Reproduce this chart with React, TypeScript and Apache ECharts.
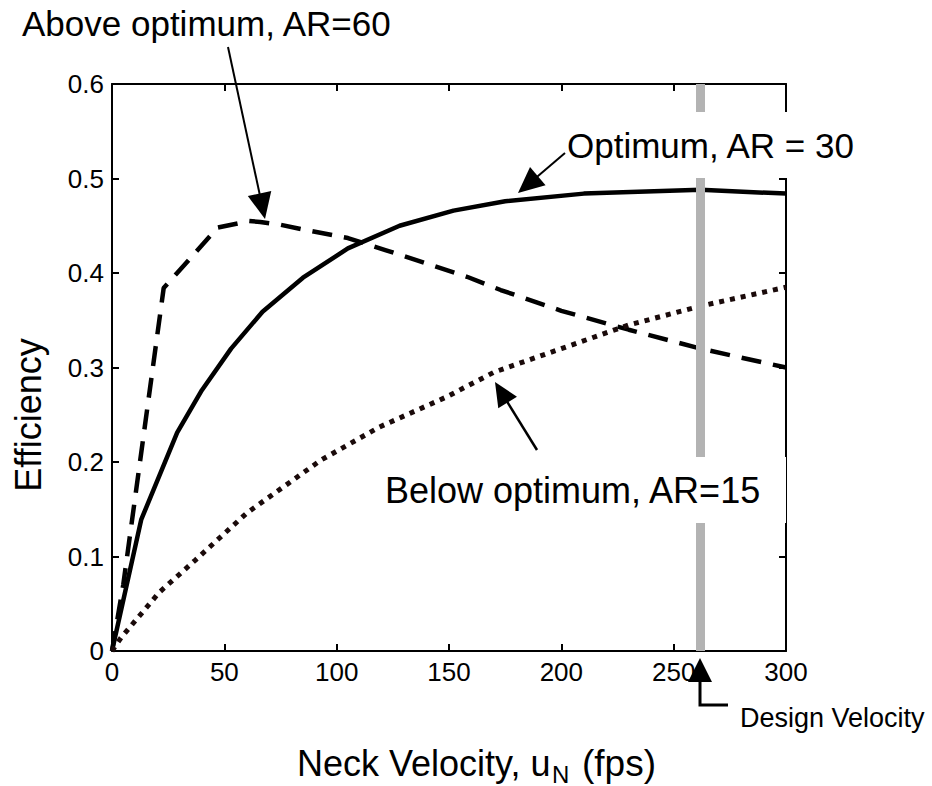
import React, { useEffect, useRef } from 'react';
import * as echarts from 'echarts';

// ---- Data ----
const xTickValues = [0, 50, 100, 150, 200, 250, 300];

const optimumX = [0, 13, 29, 40, 53, 67, 85, 105, 128, 152, 175, 210, 262, 300];
const optimumY = [0, 0.139, 0.231, 0.276, 0.32, 0.359, 0.395, 0.426, 0.45, 0.466, 0.476, 0.484, 0.488, 0.484];

const aboveX = [0, 5, 23, 29, 47, 61, 66, 75, 85, 105, 122, 140, 158, 173, 200, 230, 262, 300];
const aboveY = [0, 0.07, 0.384, 0.4, 0.448, 0.455, 0.454, 0.451, 0.446, 0.437, 0.424, 0.41, 0.396, 0.382, 0.36, 0.34, 0.32, 0.3];

const belowX = [0, 4, 21, 37, 60, 93, 119, 149, 170, 200, 230, 262, 300];
const belowY = [0, 0.014, 0.062, 0.096, 0.146, 0.202, 0.237, 0.269, 0.295, 0.32, 0.345, 0.365, 0.385];

const designVelocity = 262;

const FONT = '"Liberation Sans", Arial, Helvetica, sans-serif';

const pairs = (xs: number[], ys: number[]) => xs.map((x, i) => [x, ys[i]]);

function arrow(x1: number, y1: number, x2: number, y2: number, headLen: number, headW: number, lw: number) {
  const dx = x2 - x1;
  const dy = y2 - y1;
  const len = Math.hypot(dx, dy);
  const ux = dx / len;
  const uy = dy / len;
  const bx = x2 - ux * headLen;
  const by = y2 - uy * headLen;
  const px = (-uy * headW) / 2;
  const py = (ux * headW) / 2;
  return [
    {
      type: 'line',
      z: 100,
      shape: { x1, y1, x2: bx + ux * 2, y2: by + uy * 2 },
      style: { stroke: '#000', lineWidth: lw },
    },
    {
      type: 'polygon',
      z: 100,
      shape: { points: [[x2, y2], [bx + px, by + py], [bx - px, by - py]] },
      style: { fill: '#000' },
    },
  ];
}

function txt(text: string, x: number, y: number, size: number, align = 'left', rotation = 0) {
  return {
    type: 'text',
    z: 100,
    x,
    y,
    rotation,
    style: {
      text,
      font: `${size}px ${FONT}`,
      fill: '#000',
      textAlign: align,
      textVerticalAlign: 'middle',
      align,
      verticalAlign: 'middle',
    },
  };
}

export default function App() {
  const ref = useRef<HTMLDivElement>(null);

  useEffect(() => {
    if (!ref.current) return;
    const chart = echarts.init(ref.current, undefined, { renderer: 'svg' });

    const axisCommon = {
      type: 'value' as const,
      axisLine: { show: true, onZero: false, lineStyle: { color: '#000', width: 2 } },
      axisTick: { show: true, inside: true, length: 7, lineStyle: { color: '#000', width: 2 } },
      splitLine: { show: false },
    };

    const option: any = {
      animation: false,
      backgroundColor: '#fff',
      grid: {
        left: 112,
        right: 146,
        top: 84,
        bottom: 135,
        containLabel: false,
        outerBoundsMode: 'none',
      },
      xAxis: [
        {
          ...axisCommon,
          position: 'bottom',
          min: 0,
          max: 300,
          interval: 50,
          axisLabel: {
            show: true,
            color: '#000',
            fontSize: 26,
            fontFamily: FONT,
            margin: 8,
            customValues: xTickValues,
          },
        },
        {
          ...axisCommon,
          position: 'top',
          min: 0,
          max: 300,
          interval: 50,
          axisLabel: { show: false },
        },
      ],
      yAxis: [
        {
          ...axisCommon,
          position: 'left',
          min: 0,
          max: 0.6,
          interval: 0.1,
          axisLabel: {
            show: true,
            color: '#000',
            fontSize: 26,
            fontFamily: FONT,
            margin: 8,
            formatter: (v: number) => (v === 0 ? '0' : v.toFixed(1)),
          },
        },
        {
          ...axisCommon,
          position: 'right',
          min: 0,
          max: 0.6,
          interval: 0.1,
          axisLabel: { show: false },
        },
      ],
      series: [
        {
          name: 'Design Velocity',
          type: 'line',
          data: [],
          z: 1,
          markLine: {
            silent: true,
            symbol: ['none', 'none'],
            label: { show: false },
            lineStyle: { color: '#b3b3b3', width: 9, type: 'solid' },
            data: [{ xAxis: designVelocity }],
          },
        },
        {
          name: 'Optimum, AR = 30',
          type: 'line',
          z: 3,
          data: pairs(optimumX, optimumY),
          showSymbol: false,
          symbol: 'none',
          lineStyle: { color: '#000', width: 4.5, type: 'solid' },
        },
        {
          name: 'Above optimum, AR=60',
          type: 'line',
          z: 3,
          data: pairs(aboveX, aboveY),
          showSymbol: false,
          symbol: 'none',
          lineStyle: { color: '#000', width: 4.5, type: [20, 12] },
        },
        {
          name: 'Below optimum, AR=15',
          type: 'line',
          z: 3,
          data: pairs(belowX, belowY),
          showSymbol: false,
          symbol: 'none',
          lineStyle: { color: '#1a0a0a', width: 5, type: [5, 6], cap: 'butt' },
        },
      ],
      graphic: [
        // white label boxes
        { type: 'rect', z: 90, shape: { x: 560, y: 112, width: 312, height: 66 }, style: { fill: '#fff' } },
        { type: 'rect', z: 90, shape: { x: 380, y: 457, width: 406, height: 66 }, style: { fill: '#fff' } },
        txt('Above optimum, AR=60', 22, 23, 35),
        txt('Optimum, AR = 30', 567, 145, 35),
        txt('Below optimum, AR=15', 385, 490, 36),
        txt('Design Velocity', 740, 718, 27),
        txt('Efficiency', 28, 415, 36, 'center', Math.PI / 2),
        txt('Neck Velocity, u', 297, 763, 36),
        txt('N', 552, 774, 24),
        txt('(fps)', 582, 763, 37),
        ...arrow(228, 47, 265, 219, 26, 24, 2),
        ...arrow(565, 153, 518, 193, 26, 24, 2),
        ...arrow(537, 450, 495, 382, 24, 22, 2.5),
        // design velocity marker arrow
        {
          type: 'polygon',
          z: 100,
          shape: { points: [[700, 658], [688, 682], [712, 682]] },
          style: { fill: '#000' },
        },
        {
          type: 'polyline',
          z: 100,
          shape: { points: [[700, 680], [700, 705], [728, 705]] },
          style: { stroke: '#000', lineWidth: 3, fill: 'none' },
        },
      ],
    };

    chart.setOption(option);
    return () => chart.dispose();
  }, []);

  return (
    <div
      ref={ref}
      style={{ position: 'fixed', left: 0, top: 0, width: 932, height: 786, background: '#fff' }}
    />
  );
}
